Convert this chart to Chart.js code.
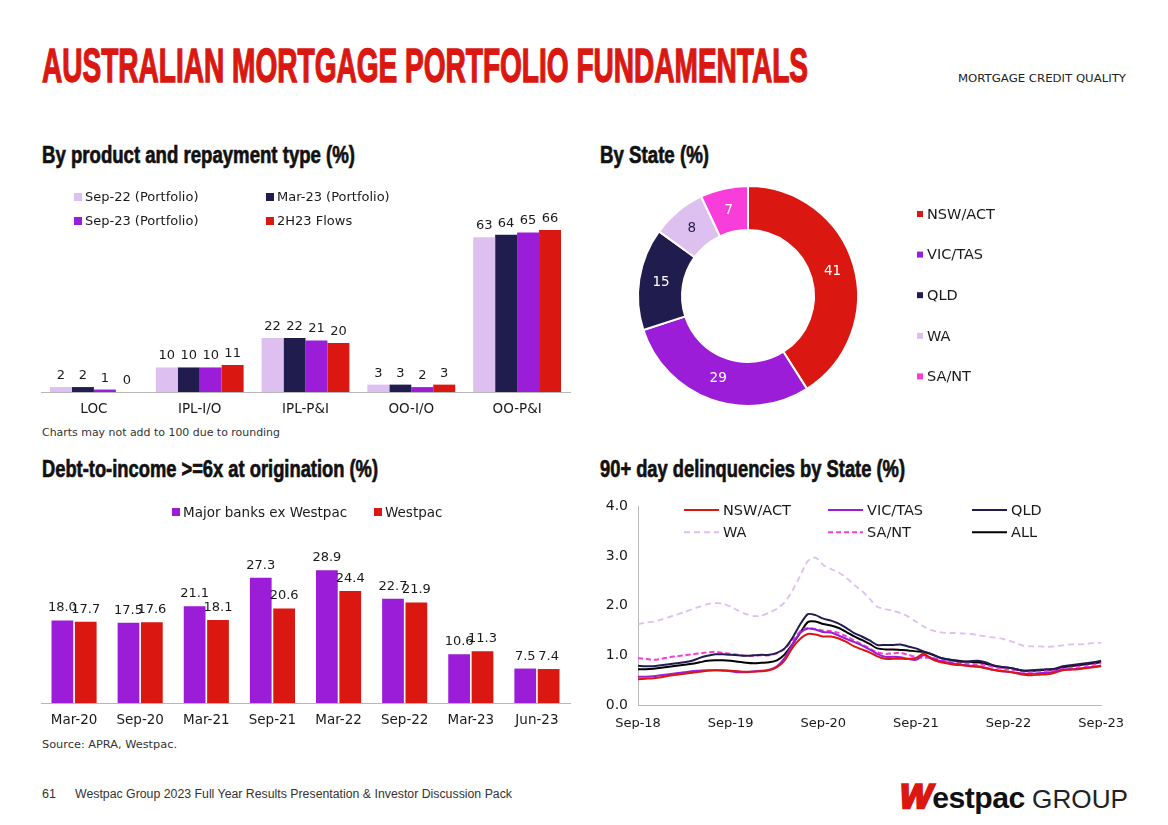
<!DOCTYPE html>
<html lang="en">
<head>
<meta charset="UTF-8">
<title>Australian Mortgage Portfolio Fundamentals</title>
<script src="https://cdn.jsdelivr.net/npm/chart.js"></script>
<style>
  body { margin: 0; width: 1168px; height: 825px; position: relative; overflow: hidden; background: #fff;
         font-family: "DejaVu Sans", sans-serif; color: #1a1a1a; }
  .abs { position: absolute; white-space: nowrap; transform-origin: 0 0; line-height: 1; }
  .title { font-family: "Liberation Sans", sans-serif; font-weight: bold; color: #da1710; font-size: 47.5px;
           -webkit-text-stroke: 1.4px #da1710; }
  .head { font-family: "Liberation Sans", sans-serif; font-weight: bold; color: #111; font-size: 24.5px;
          -webkit-text-stroke: 0.7px #111; }
  .note { font-size: 10.5px; color: #333; }
  .foot { font-family: "Liberation Sans", sans-serif; font-size: 12.5px; color: #333; }
  canvas { position: absolute; }
</style>
</head>
<body>
<div class="abs title" style="left:42px;top:41.8px" data-w="766">AUSTRALIAN MORTGAGE PORTFOLIO FUNDAMENTALS</div>
<div class="abs note" style="left:958px;top:73px;color:#222" data-w="168">MORTGAGE CREDIT QUALITY</div>

<div class="abs head" style="left:42px;top:142.8px" data-w="313">By product and repayment type (%)</div>
<div class="abs head" style="left:600px;top:142.8px" data-w="109">By State (%)</div>
<div class="abs head" style="left:42px;top:456.8px" data-w="336">Debt-to-income &gt;=6x at origination (%)</div>
<div class="abs head" style="left:600px;top:456.8px" data-w="305">90+ day delinquencies by State (%)</div>

<canvas id="productChart" width="545" height="245" style="left:30px;top:180px"></canvas>
<canvas id="stateChart" width="540" height="232" style="left:600px;top:180px"></canvas>
<canvas id="dtiChart" width="545" height="240" style="left:30px;top:495px"></canvas>
<canvas id="arrearsChart" width="540" height="247" style="left:595px;top:488px"></canvas>

<div class="abs note" style="left:42px;top:427px" data-w="238">Charts may not add to 100 due to rounding</div>
<div class="abs note" style="left:42px;top:739px" data-w="135">Source: APRA, Westpac.</div>

<div class="abs foot" style="left:42px;top:788.4px">61</div>
<div class="abs foot" style="left:75px;top:788.4px" data-w="437">Westpac Group 2023 Full Year Results Presentation &amp; Investor Discussion Pack</div>
<div class="abs" style="left:900px;top:779px" data-w="228">
  <span style="font-family:'Liberation Sans';font-weight:bold;font-size:34px;color:#da1710;-webkit-text-stroke:2.5px #da1710;display:inline-block;transform:skewX(-12deg)">W</span><span style="font-family:'Liberation Sans';font-weight:bold;font-size:30px;color:#111;letter-spacing:-0.5px">estpac</span><span style="font-family:'Liberation Sans';font-size:26px;color:#222"> GROUP</span>
</div>

<script>
// colours
const RED = '#da1710';
const PURPLE = '#9b1dd8';
const NAVY = '#201c4e';
const LILAC = '#ddbff0';
const PINK = '#f93ddb';

// by product and repayment type
const products = ['LOC', 'IPL-I/O', 'IPL-P&I', 'OO-I/O', 'OO-P&I'];
const sep22Portfolio = [2, 10, 22, 3, 63];
const mar23Portfolio = [2, 10, 22, 3, 64];
const sep23Portfolio = [1, 10, 21, 2, 65];
const flows2H23 = [0, 11, 20, 3, 66];

// by state
const states = ['NSW/ACT', 'VIC/TAS', 'QLD', 'WA', 'SA/NT'];
const stateShare = [41, 29, 15, 8, 7];

// debt-to-income >= 6x
const dtiPeriods = ['Mar-20', 'Sep-20', 'Mar-21', 'Sep-21', 'Mar-22', 'Sep-22', 'Mar-23', 'Jun-23'];
const majorBanksExWbc = [18.0, 17.5, 21.1, 27.3, 28.9, 22.7, 10.6, 7.5];
const westpacDti = [17.7, 17.6, 18.1, 20.6, 24.4, 21.9, 11.3, 7.4];

// 90+ day delinquencies, monthly
const months = [
  'Sep-18', 'Oct-18', 'Nov-18', 'Dec-18',
  'Jan-19', 'Feb-19', 'Mar-19', 'Apr-19', 'May-19', 'Jun-19', 'Jul-19', 'Aug-19', 'Sep-19', 'Oct-19', 'Nov-19', 'Dec-19',
  'Jan-20', 'Feb-20', 'Mar-20', 'Apr-20', 'May-20', 'Jun-20', 'Jul-20', 'Aug-20', 'Sep-20', 'Oct-20', 'Nov-20', 'Dec-20',
  'Jan-21', 'Feb-21', 'Mar-21', 'Apr-21', 'May-21', 'Jun-21', 'Jul-21', 'Aug-21', 'Sep-21', 'Oct-21', 'Nov-21', 'Dec-21',
  'Jan-22', 'Feb-22', 'Mar-22', 'Apr-22', 'May-22', 'Jun-22', 'Jul-22', 'Aug-22', 'Sep-22', 'Oct-22', 'Nov-22', 'Dec-22',
  'Jan-23', 'Feb-23', 'Mar-23', 'Apr-23', 'May-23', 'Jun-23', 'Jul-23', 'Aug-23', 'Sep-23'
];
const yearTicks = ['Sep-18', 'Sep-19', 'Sep-20', 'Sep-21', 'Sep-22', 'Sep-23'];
const nswAct = [0.52,0.53,0.54,0.56,0.59,0.61,0.63,0.65,0.67,0.69,0.70,0.70,
  0.69,0.68,0.67,0.67,0.68,0.70,0.76,0.90,1.15,1.33,1.43,1.42,
  1.38,1.38,1.34,1.27,1.18,1.12,1.06,0.98,0.93,0.93,0.93,0.93,
  0.95,1.03,0.93,0.87,0.84,0.81,0.80,0.78,0.77,0.74,0.71,0.69,
  0.67,0.64,0.61,0.60,0.61,0.62,0.65,0.70,0.71,0.72,0.74,0.76,
  0.78];
const vicTas = [0.57,0.57,0.58,0.60,0.62,0.64,0.66,0.68,0.69,0.70,0.70,0.69,
  0.68,0.66,0.66,0.68,0.69,0.71,0.78,0.95,1.22,1.45,1.54,1.52,
  1.47,1.46,1.40,1.33,1.27,1.20,1.12,1.03,0.97,0.97,0.96,0.93,
  0.91,1.00,0.95,0.89,0.86,0.83,0.81,0.79,0.78,0.75,0.71,0.68,
  0.67,0.65,0.63,0.63,0.64,0.65,0.67,0.71,0.72,0.73,0.75,0.77,
  0.79];
const qld = [0.79,0.78,0.78,0.80,0.82,0.84,0.86,0.89,0.95,0.99,1.02,1.02,
  1.01,1.00,0.99,1.00,1.01,1.01,1.05,1.14,1.35,1.62,1.83,1.81,
  1.74,1.70,1.64,1.55,1.45,1.38,1.30,1.21,1.21,1.21,1.22,1.18,
  1.14,1.08,1.03,0.96,0.92,0.89,0.87,0.88,0.89,0.86,0.80,0.77,
  0.75,0.72,0.69,0.70,0.71,0.72,0.73,0.78,0.80,0.82,0.84,0.86,
  0.89];
const wa = [1.63,1.66,1.68,1.72,1.77,1.82,1.87,1.93,1.98,2.03,2.05,2.04,
  1.98,1.90,1.83,1.79,1.80,1.86,1.94,2.07,2.30,2.60,2.90,2.97,
  2.82,2.74,2.67,2.56,2.42,2.30,2.14,1.98,1.93,1.90,1.85,1.78,
  1.68,1.58,1.51,1.47,1.45,1.45,1.44,1.43,1.41,1.38,1.36,1.34,
  1.30,1.25,1.19,1.18,1.18,1.17,1.18,1.20,1.22,1.22,1.23,1.25,
  1.25];
const saNt = [0.94,0.93,0.91,0.93,0.96,0.98,1.00,1.02,1.04,1.06,1.07,1.05,
  1.03,1.01,0.99,0.99,1.00,1.00,1.04,1.13,1.30,1.48,1.55,1.53,
  1.50,1.49,1.45,1.38,1.30,1.22,1.14,1.06,1.03,1.04,1.05,1.01,
  0.97,0.95,0.95,0.92,0.88,0.85,0.84,0.83,0.82,0.80,0.77,0.74,
  0.72,0.70,0.67,0.67,0.68,0.69,0.70,0.73,0.75,0.77,0.79,0.81,
  0.84];
const allStates = [0.72,0.72,0.73,0.75,0.77,0.79,0.81,0.83,0.86,0.89,0.90,0.90,
  0.89,0.87,0.85,0.84,0.85,0.86,0.90,1.02,1.22,1.45,1.67,1.68,
  1.63,1.60,1.55,1.47,1.38,1.31,1.23,1.14,1.12,1.12,1.11,1.10,
  1.08,1.07,1.02,0.96,0.92,0.90,0.88,0.87,0.86,0.83,0.79,0.76,
  0.75,0.72,0.69,0.69,0.70,0.71,0.72,0.76,0.78,0.80,0.82,0.84,
  0.86];

// squeeze the headings to the width they take on the slide
function fitWidths() {
  document.querySelectorAll('[data-w]').forEach(el => {
    const w = el.getBoundingClientRect().width;
    el.style.transform = 'scaleX(' + (el.dataset.w / w) + ')';
  });
}
fitWidths();

Chart.defaults.font.family = '"DejaVu Sans", sans-serif';
Chart.defaults.font.size = 13;
Chart.defaults.color = '#1a1a1a';
Chart.defaults.animation = false;
Chart.defaults.plugins.legend.display = false;
Chart.defaults.plugins.tooltip.enabled = false;

// legend laid out in fixed columns, like the slide
const gridLegend = {
  id: 'gridLegend',
  afterDraw(chart, args, o) {
    const ctx = chart.ctx;
    const ds = chart.data.datasets;
    const type = chart.config.type;
    const items = type === 'doughnut'
      ? chart.data.labels.map((t, i) => ({ text: t, color: ds[0].backgroundColor[i] }))
      : ds.map(d => ({ text: d.label, color: type === 'line' ? d.borderColor : d.backgroundColor, dash: d.borderDash }));
    ctx.save();
    ctx.font = o.font;
    ctx.textBaseline = 'middle';
    items.forEach((it, i) => {
      const x = o.cols[i % o.cols.length];
      const y = o.y + Math.floor(i / o.cols.length) * o.rowH;
      if (o.line) {
        ctx.strokeStyle = it.color;
        ctx.lineWidth = 2;
        ctx.setLineDash(it.dash || []);
        ctx.beginPath();
        ctx.moveTo(x, y);
        ctx.lineTo(x + o.line, y);
        ctx.stroke();
        ctx.setLineDash([]);
      } else {
        ctx.fillStyle = it.color;
        ctx.fillRect(x, y - o.box / 2, o.box, o.box);
      }
      ctx.fillStyle = '#1a1a1a';
      ctx.fillText(it.text, x + (o.line || o.box) + o.gap, y + 1);
    });
    ctx.restore();
  }
};

// numbers above the bars
const valueLabels = {
  id: 'valueLabels',
  afterDatasetsDraw(chart, args, o) {
    const ctx = chart.ctx;
    ctx.save();
    ctx.font = o.font;
    ctx.fillStyle = '#1a1a1a';
    ctx.textAlign = 'center';
    chart.data.datasets.forEach((d, i) => {
      chart.getDatasetMeta(i).data.forEach((bar, j) => {
        ctx.fillText(d.data[j].toFixed(o.digits), bar.x, bar.y - o.offset);
      });
    });
    ctx.restore();
  }
};

// numbers on the doughnut slices
const sliceLabels = {
  id: 'sliceLabels',
  afterDatasetsDraw(chart, args, o) {
    const ctx = chart.ctx;
    const d = chart.data.datasets[0];
    ctx.save();
    ctx.font = o.font;
    ctx.textAlign = 'center';
    ctx.textBaseline = 'middle';
    chart.getDatasetMeta(0).data.forEach((arc, i) => {
      const p = arc.getCenterPoint();
      ctx.fillStyle = o.colors[i];
      ctx.fillText(d.data[i], p.x, p.y);
    });
    ctx.restore();
  }
};

const flatX = {
  grid: { display: false, drawTicks: false },
  border: { color: '#b8b8b8' },
  ticks: { padding: 9, font: { size: 13.5 } },
  afterFit: s => { s.height = 25; }
};

new Chart(document.getElementById('productChart'), {
  type: 'bar',
  data: {
    labels: products,
    datasets: [
      { label: 'Sep-22 (Portfolio)', data: sep22Portfolio, backgroundColor: LILAC },
      { label: 'Mar-23 (Portfolio)', data: mar23Portfolio, backgroundColor: NAVY },
      { label: 'Sep-23 (Portfolio)', data: sep23Portfolio, backgroundColor: PURPLE },
      { label: '2H23 Flows', data: flows2H23, backgroundColor: RED }
    ]
  },
  options: {
    responsive: false,
    layout: { padding: { left: 11, right: 5, top: 20, bottom: 8 } },
    datasets: { bar: { categoryPercentage: 0.83, barPercentage: 1 } },
    scales: {
      x: flatX,
      y: { display: false, min: 0, max: 78.2 }
    },
    plugins: {
      gridLegend: { cols: [44, 236], y: 17, rowH: 24, box: 8, gap: 3, font: '13px "DejaVu Sans"' },
      valueLabels: { digits: 0, offset: 8, font: '13px "DejaVu Sans"' }
    }
  },
  plugins: [gridLegend, valueLabels]
});

new Chart(document.getElementById('stateChart'), {
  type: 'doughnut',
  data: {
    labels: states,
    datasets: [{
      data: stateShare,
      backgroundColor: [RED, PURPLE, NAVY, LILAC, PINK],
      borderColor: '#fff',
      borderWidth: 2
    }]
  },
  options: {
    responsive: false,
    cutout: '60%',
    layout: { padding: { left: 37, right: 281, top: 5, bottom: 5 } },
    plugins: {
      gridLegend: { cols: [317], y: 34, rowH: 40.6, box: 6, gap: 4, font: '14.5px "DejaVu Sans"' },
      sliceLabels: { colors: ['#fff', '#fff', '#fff', NAVY, '#fff'], font: '13.5px "DejaVu Sans"' }
    }
  },
  plugins: [gridLegend, sliceLabels]
});

new Chart(document.getElementById('dtiChart'), {
  type: 'bar',
  data: {
    labels: dtiPeriods,
    datasets: [
      { label: 'Major banks ex Westpac', data: majorBanksExWbc, backgroundColor: PURPLE },
      { label: 'Westpac', data: westpacDti, backgroundColor: RED }
    ]
  },
  options: {
    responsive: false,
    layout: { padding: { left: 11, right: 5, top: 29, bottom: 7 } },
    datasets: { bar: { categoryPercentage: 0.707, barPercentage: 0.93 } },
    scales: {
      x: flatX,
      y: { display: false, min: 0, max: 39 }
    },
    plugins: {
      gridLegend: { cols: [142, 344], y: 17, rowH: 24, box: 8, gap: 3, font: '13.5px "DejaVu Sans"' },
      valueLabels: { digits: 1, offset: 9, font: '13px "DejaVu Sans"' }
    }
  },
  plugins: [gridLegend, valueLabels]
});

new Chart(document.getElementById('arrearsChart'), {
  type: 'line',
  data: {
    labels: months,
    datasets: [
      { label: 'NSW/ACT', data: nswAct, borderColor: RED },
      { label: 'VIC/TAS', data: vicTas, borderColor: PURPLE },
      { label: 'QLD', data: qld, borderColor: NAVY },
      { label: 'WA', data: wa, borderColor: LILAC, borderDash: [6, 4], borderWidth: 1.8 },
      { label: 'SA/NT', data: saNt, borderColor: PINK, borderDash: [5, 3] },
      { label: 'ALL', data: allStates, borderColor: '#000' }
    ]
  },
  options: {
    responsive: false,
    layout: { padding: { top: 3, right: 30, bottom: 6, left: 0 } },
    elements: { point: { radius: 0 }, line: { borderWidth: 2, tension: 0.25 } },
    scales: {
      x: {
        grid: { display: false, drawTicks: false },
        border: { color: '#b8b8b8' },
        ticks: {
          autoSkip: false, maxRotation: 0, minRotation: 0, padding: 11,
          callback: (v, i) => yearTicks.includes(months[i]) ? months[i] : ''
        },
        afterFit: s => { s.height = 24; }
      },
      y: {
        min: 0, max: 4,
        grid: { display: false, drawTicks: false },
        border: { color: '#b8b8b8' },
        ticks: { stepSize: 1, padding: 10, font: { size: 14 }, callback: v => v.toFixed(1) },
        afterFit: s => { s.width = 43; }
      }
    },
    plugins: {
      gridLegend: { cols: [89, 233, 377], y: 22, rowH: 22.3, line: 35, gap: 4, font: '14.5px "DejaVu Sans"' }
    }
  },
  plugins: [gridLegend]
});
</script>
</body>
</html>
